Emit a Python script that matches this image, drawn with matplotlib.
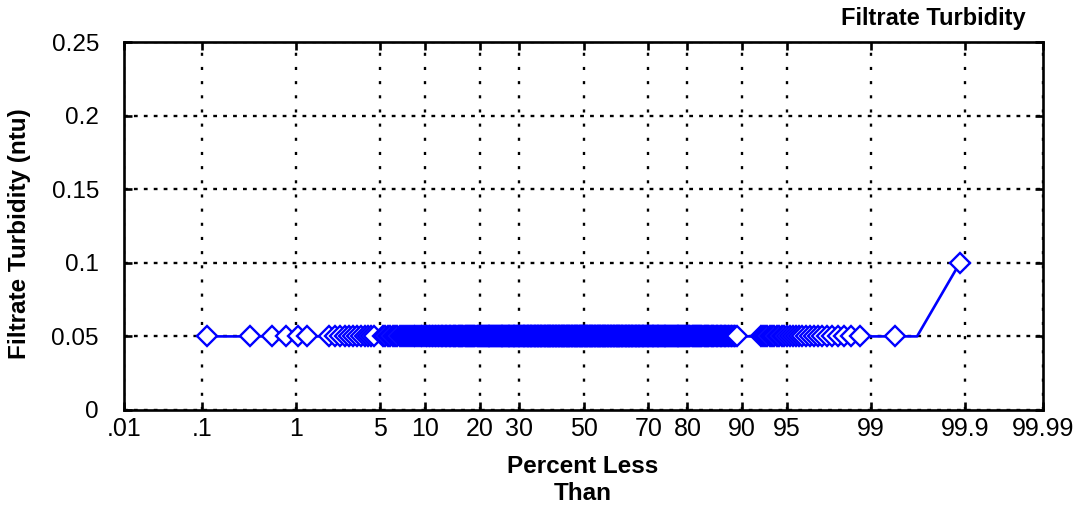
import numpy as np
import matplotlib
matplotlib.use('Agg')
import matplotlib.pyplot as plt
from statistics import NormalDist

# turbidity readings (ntu): value levels and how many readings at each level
turbidity_levels = [0.05, 0.1]
turbidity_counts = [431, 1]

# ranks (1-based) whose marker is not drawn in the original plot
unmarked_ranks = [7, 8, 21, 22] + list(range(387, 400)) + [428, 429, 431]

x_ticks = [0.01, 0.1, 1, 5, 10, 20, 30, 50, 70, 80, 90, 95, 99, 99.9, 99.99]
x_tick_labels = ['.01', '.1', '1', '5', '10', '20', '30', '50', '70', '80',
                 '90', '95', '99', '99.9', '99.99']
y_ticks = [0, 0.05, 0.1, 0.15, 0.2, 0.25]
y_tick_labels = ['0', '0.05', '0.1', '0.15', '0.2', '0.25']

ND = NormalDist()


def _inv(p):
    if not np.isfinite(p):
        return np.nan
    return ND.inv_cdf(min(max(p, 1e-12), 1 - 1e-12))


def _cdf(z):
    if np.isnan(z):
        return np.nan
    return ND.cdf(z)


def pct_to_z(p):
    p = np.asarray(p, dtype=float) / 100.0
    return np.vectorize(_inv, otypes=[float])(p)


def z_to_pct(z):
    return np.vectorize(_cdf, otypes=[float])(np.asarray(z, dtype=float)) * 100.0


def main():
    plt.rcParams['font.family'] = ['Liberation Sans', 'DejaVu Sans']

    values = np.sort(np.repeat(turbidity_levels, turbidity_counts))
    n = len(values)
    # Hazen plotting positions for the probability plot
    percent_less = (np.arange(1, n + 1) - 0.5) / n * 100.0
    marked = [i for i in range(n) if (i + 1) not in unmarked_ranks]

    fig = plt.figure(figsize=(10.77, 5.11), dpi=100)
    ax = fig.add_axes([124 / 1077, 1 - 410 / 511, (1043 - 124) / 1077, (410 - 42) / 511])
    ax.set_xscale('function', functions=(pct_to_z, z_to_pct))

    ax.plot(percent_less, values, color='#0000ff', lw=1.9, marker='D', ms=9.8,
            mfc='white', mec='#0000ff', mew=1.7, markevery=marked, zorder=3)

    ax.set_xlim(0.01, 99.99)
    ax.set_ylim(0, 0.25)
    ax.set_xticks(x_ticks)
    ax.set_xticklabels(x_tick_labels)
    ax.xaxis.set_minor_locator(matplotlib.ticker.NullLocator())
    ax.set_yticks(y_ticks)
    ax.set_yticklabels(y_tick_labels)

    ax.grid(axis='x', color='black', lw=1.7, linestyle=(0, (1.3, 4.7)))
    ax.grid(axis='y', color='black', lw=1.7, linestyle=(0, (1.6, 2.6)))

    for s in ax.spines.values():
        s.set_linewidth(1.9)
    ax.tick_params(axis='both', direction='in', length=6, width=1.9,
                   top=True, right=True, labelsize=17.5)
    ax.tick_params(axis='x', pad=5, labelsize=18)
    ax.tick_params(axis='y', pad=18)

    fig.text(1026 / 1077, 1 - 18 / 511, 'Filtrate Turbidity', ha='right', va='center',
             fontsize=17, fontweight='bold')
    fig.text(20 / 1077, 1 - 234 / 511, 'Filtrate Turbidity (ntu)', ha='center', va='center',
             rotation=90, fontsize=17.5, fontweight='bold')
    fig.text(583 / 1077, 1 - 480 / 511, 'Percent Less\nThan', ha='center', va='center',
             fontsize=17.5, fontweight='bold', linespacing=1.2)

    fig.savefig('out.png', dpi=100)


if __name__ == '__main__':
    main()
